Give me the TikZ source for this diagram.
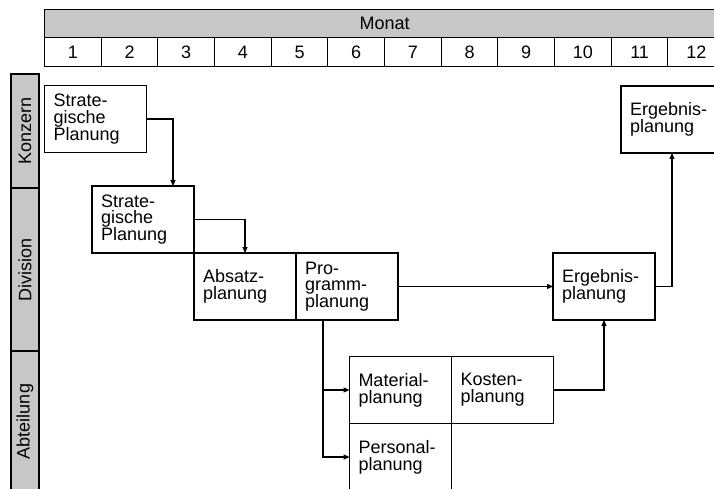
\documentclass[tikz,border=0pt]{standalone}
\usepackage{fontspec}
\setmainfont{Liberation Sans}
\usetikzlibrary{positioning, arrows.meta}

\begin{document}
\begin{tikzpicture}[
    x=1pt, y=-1pt,
    every node/.style={font=\fontsize{18}{16.8}\selectfont},
    box/.style={rectangle, draw, line width=1.1pt, outer sep=0pt, fill=white, minimum width=102pt, minimum height=67pt, text width=84pt, inner xsep=9pt, align=left},
    lane/.style={rectangle, draw, line width=1.1pt, fill=black!22, rotate=90, minimum height=28pt, inner sep=0pt},
    cell/.style={rectangle, draw, line width=1.1pt, minimum width=56.67pt, minimum height=29pt, inner sep=0pt},
    arrow/.style={-{Triangle[length=6pt,width=5pt]}, line width=1.1pt}
]
\clip (0,0) rectangle (714,489);

% --- Kopfzeile (Monate)
\node[rectangle, draw, line width=1.1pt, fill=black!22, minimum width=680pt, minimum height=28pt, anchor=north west] (monat) at (44,9) {Monat};
\foreach \i in {1,...,12}
    \node[cell, anchor=north west] (m\i) at ({44+56.67*(\i-1)},37) {\i};

% --- Ebenen links
\node[lane, minimum width=114pt] (konzern) at (25,131) {Konzern};
\node[lane, minimum width=163pt] (division) at (25,269.5) {Division};
\node[lane, minimum width=141pt] (abteilung) at (25,421.5) {Abteilung};

% --- Konzern
\node[box] (kspl) at (95.5,119) {Strate-\\gische\\Planung};
\node[box] (ergkonz) at (672,119.5) {Ergebnis-\\planung};

% --- Division
\node[box] (dspl) at (143,219.5) {Strate-\\gische\\Planung};
\node[box] (absatz) at (245,286.5) {Absatz-\\planung};
\node[box, right=0pt of absatz] (programm) {Pro-\\gramm-\\planung};
\node[box] (ergdiv) at (604,286.5) {Ergebnis-\\planung};

% --- Abteilung
\node[box] (material) at (400.5,390) {Material-\\planung};
\node[box, right=0pt of material] (kosten) {Kosten-\\planung};
\node[box, below=0pt of material] (personal) {Personal-\\planung};

% --- Pfeile
\draw[arrow] (kspl.east) -| ([xshift=30pt]dspl.north);
\draw[arrow] (dspl.east) -| (absatz.north);
\draw[arrow] (programm.east) -- (ergdiv.west);
\draw[arrow] ([xshift=-24pt]programm.south) |- (material.west);
\draw[arrow] ([xshift=-24pt]programm.south) |- (personal.west);
\draw[arrow] (kosten.east) -| (ergdiv.south);
\draw[arrow] (ergdiv.east) -| (ergkonz.south);

\end{tikzpicture}
\end{document}
